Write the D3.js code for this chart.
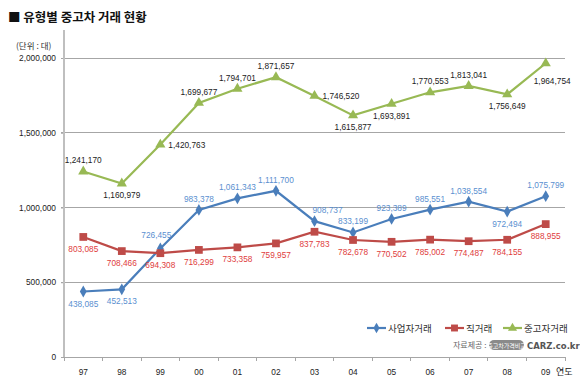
<!DOCTYPE html>
<html><head><meta charset="utf-8">
<script src="https://cdn.jsdelivr.net/npm/d3@7"></script>
<style>body{margin:0;background:#fff}svg{display:block}</style>
</head><body>
<script>
const years = ["97","98","99","00","01","02","03","04","05","06","07","08","09"];
const dealer = [438085,452513,726455,983378,1061343,1111700,908737,833199,923389,985551,1038554,972494,1075799];
const direct = [803085,708466,694308,716299,733358,759957,837783,782678,770502,785002,774487,784155,888955];
const total = [1241170,1160979,1420763,1699677,1794701,1871657,1746520,1615877,1693891,1770553,1813041,1756649,1964754];
const yTicks = [0,500000,1000000,1500000,2000000];
const seriesNames = ["사업자거래","직거래","중고자거래"];
// label placement: a=above, b=below, r=right, ar=above-right, al=above-left, br=below-right
const dealerPos = ["b","b","al","a","a","a","ar","a","a","a","a","b","a"];
const directPos = ["b","b","b","b","b","b","b","b","b","b","b","b","b"];
const totalPos = ["a","b","r","a","a","a","r","b","b","a","a","b","br"];

const W=580,H=384;
const svg=d3.select("body").append("svg").attr("width",W).attr("height",H);
const font="'Liberation Sans', Arial, sans-serif";
const kfont="'Noto Sans CJK KR', sans-serif";
const mL=64,mR=565,mT=58,mB=357;
const x=d3.scaleBand().domain(years).range([mL,mR]);
const y=d3.scaleLinear().domain([0,2000000]).range([mB,mT]);
const cx=d=>x(d)+x.bandwidth()/2;

// title
svg.append("text").attr("x",8).attr("y",22).attr("font-family",kfont).attr("font-weight","bold").attr("font-size",12.5).attr("fill","#111").text("■ 유형별 중고차 거래 현황");
svg.append("text").attr("x",16).attr("y",49).attr("font-family",kfont).attr("font-size",8.5).attr("fill","#333").text("(단위 : 대)");

// gridlines
svg.append("g").selectAll("line").data(yTicks.filter(d=>d>0)).join("line")
 .attr("x1",mL-3).attr("x2",mR).attr("y1",d=>y(d)).attr("y2",d=>y(d))
 .attr("stroke","#a6a6a6").attr("stroke-width",1).attr("shape-rendering","crispEdges");

// y axis
const ya=svg.append("g").attr("transform",`translate(${mL},0)`).call(d3.axisLeft(y).tickValues(yTicks).tickSize(3).tickFormat(d3.format(",")));
ya.select(".domain").remove();
ya.selectAll("line").attr("stroke","#a6a6a6");
ya.selectAll("text").attr("font-family",font).attr("font-size",8.3).attr("fill","#222").attr("x",-8);
svg.append("line").attr("x1",mL).attr("x2",mL).attr("y1",30).attr("y2",mB).attr("stroke","#bfbfbf").attr("stroke-width",2).attr("shape-rendering","crispEdges");

// x axis
svg.append("line").attr("x1",mL).attr("x2",mR).attr("y1",mB).attr("y2",mB).attr("stroke","#a6a6a6").attr("shape-rendering","crispEdges");
const bounds=years.map(d=>x(d)).concat([mR]);
svg.append("g").selectAll("line").data(bounds).join("line")
 .attr("x1",d=>d).attr("x2",d=>d).attr("y1",mB).attr("y2",mB+4).attr("stroke","#a6a6a6").attr("shape-rendering","crispEdges");
svg.append("g").selectAll("text").data(years).join("text")
 .attr("x",d=>cx(d)).attr("y",375).attr("text-anchor","middle").attr("font-family",font).attr("font-size",8.3).attr("fill","#222").text(d=>d);
svg.append("text").attr("x",556).attr("y",375).attr("font-family",kfont).attr("font-size",9).attr("fill","#222").text("연도");

const series=[
 {name:seriesNames[0],vals:dealer,pos:dealerPos,color:"#4a7ebb",lab:"#5a8fd0",shape:d3.symbolDiamond,size:40},
 {name:seriesNames[1],vals:direct,pos:directPos,color:"#be4b48",lab:"#e03c3c",shape:d3.symbolSquare,size:60},
 {name:seriesNames[2],vals:total,pos:totalPos,color:"#98b954",lab:"#222",shape:d3.symbolTriangle,size:45}
];
const line=d3.line().x((d,i)=>cx(years[i])).y(d=>y(d));
series.forEach(s=>{
 svg.append("path").attr("d",line(s.vals)).attr("fill","none").attr("stroke",s.color).attr("stroke-width",2.2);
 svg.append("g").selectAll("path").data(s.vals).join("path")
  .attr("transform",(d,i)=>`translate(${cx(years[i])},${y(d)})`)
  .attr("d",d3.symbol().type(s.shape).size(s.size)).attr("fill",s.color);
 svg.append("g").selectAll("text").data(s.vals).join("text")
  .each(function(d,i){
    const p=s.pos[i]; let dx=0,dy=0,anchor="middle";
    const px=cx(years[i]),py=y(d);
    if(p==="a"){dy=-8;}
    else if(p==="b"){dy=15;}
    else if(p==="r"){dx=8;dy=3;anchor="start";}
    else if(p==="ar"){dx=-2;dy=-8;anchor="start";}
    else if(p==="al"){dx=-4;dy=-10;}
    else if(p==="br"){dx=-12;dy=21;anchor="start";}
    d3.select(this).attr("x",px+dx).attr("y",py+dy).attr("text-anchor",anchor);
  })
  .attr("font-family",font).attr("font-size",8.3).attr("fill",s.lab)
  .text(d=>d3.format(",")(d));
});

// legend
const legX=[367,445,503];
series.forEach((s,i)=>{
 const g=svg.append("g").attr("transform",`translate(${legX[i]},328)`);
 g.append("line").attr("x1",0).attr("x2",19).attr("stroke",s.color).attr("stroke-width",2.2);
 g.append("path").attr("transform","translate(9.5,0)").attr("d",d3.symbol().type(s.shape).size(s.size*0.8)).attr("fill",s.color);
 g.append("text").attr("x",21).attr("y",4).attr("font-family",kfont).attr("font-size",9.5).attr("fill","#333").text(s.name);
});

// source
svg.append("text").attr("x",453).attr("y",348).attr("font-family",kfont).attr("font-size",8).attr("fill","#666").text("자료제공 :");
svg.append("rect").attr("x",489).attr("y",340).attr("width",35).attr("height",10).attr("rx",5).attr("fill","#8a8a8a");
svg.append("text").attr("x",506.5).attr("y",347.5).attr("text-anchor","middle").attr("font-family",kfont).attr("font-size",6).attr("fill","#fff").text("중고차가격비교");
svg.append("text").attr("x",527).attr("y",349).attr("font-family","'DejaVu Sans', sans-serif").attr("font-weight","bold").attr("font-size",8.5).attr("fill","#555").text("CARZ.co.kr");
</script>
</body></html>
